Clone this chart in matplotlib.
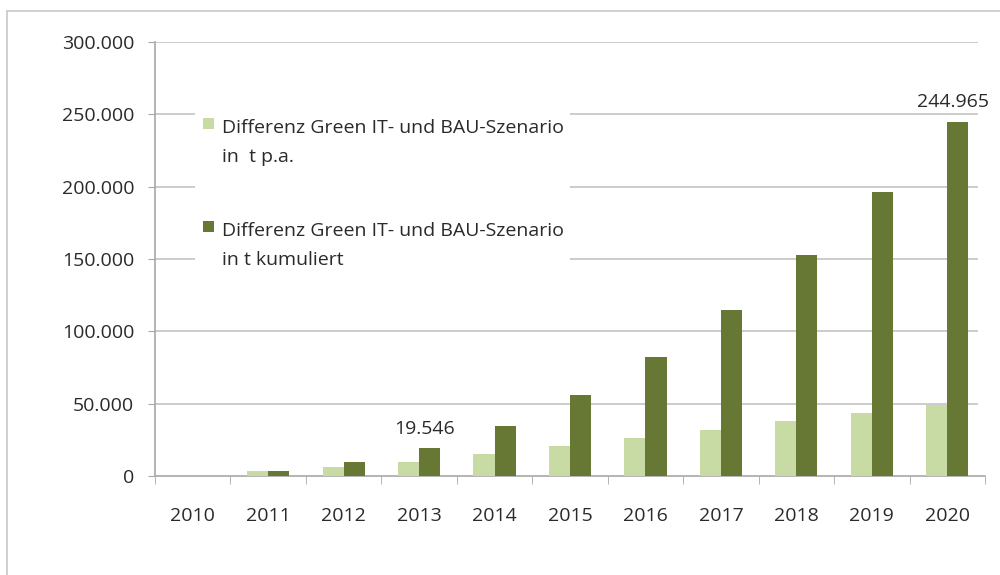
import numpy as np
import matplotlib
matplotlib.use("Agg")
import matplotlib.pyplot as plt
from matplotlib.patches import Rectangle
from matplotlib.ticker import FuncFormatter

years = ['2010', '2011', '2012', '2013', '2014', '2015', '2016', '2017', '2018', '2019', '2020']
pa = [0, 3300, 6600, 9646, 15400, 20900, 26500, 32200, 38100, 43500, 48819]
cumulative = [0, 3300, 9900, 19546, 34946, 55846, 82346, 114546, 152646, 196146, 244965]
labels = [['Differenz Green IT- und BAU-Szenario', 'in  t p.a.'],
          ['Differenz Green IT- und BAU-Szenario', 'in t kumuliert']]
annotated = {3: '19.546', 10: '244.965'}

light = '#c9dba4'
dark = '#667834'
txt_col = '#2a2a2a'
fs = 14

plt.rcParams['font.family'] = ['Open Sans', 'DejaVu Sans']

fig = plt.figure(figsize=(10, 5.75), dpi=100)
fig.patches.append(Rectangle((0.007, -0.1), 1.1, 1.081, transform=fig.transFigure,
                             fill=False, edgecolor='#c8c8c8', linewidth=1.2))
ax = fig.add_axes([0.155, 0.172, 0.83, 0.755])

x = np.arange(len(years))
w = 0.28
ax.bar(x - w / 2, pa, w, color=light, zorder=3)
ax.bar(x + w / 2, cumulative, w, color=dark, zorder=3)

for i, t in annotated.items():
    ax.text(x[i] + 0.07, cumulative[i] + 7000, t, ha='center', va='bottom',
            fontsize=fs, color=txt_col)

ax.set_xlim(-0.5, len(years) - 0.5)
ax.set_ylim(0, 300000)
yt = np.arange(0, 300001, 50000)
ax.set_yticks(yt)
ax.yaxis.set_major_formatter(FuncFormatter(lambda v, p: f'{int(v):,}'.replace(',', '.')))
# gridlines stop a little short of the right end
ax.hlines(yt[1:], 0, 0.992, transform=ax.get_yaxis_transform(),
          color='#c4c4c4', linewidth=1.2, zorder=0)

ax.set_xticks(x)
ax.set_xticklabels(years)
ax.set_xticks(np.arange(-0.5, len(years), 1), minor=True)
ax.tick_params(axis='x', which='major', length=0, pad=22, labelsize=fs, labelcolor=txt_col)
ax.tick_params(axis='x', which='minor', length=6, color='#a8a8a8', direction='out')
ax.tick_params(axis='y', length=5, color='#a8a8a8', labelsize=fs, labelcolor=txt_col, pad=10)

for s in ['top', 'right']:
    ax.spines[s].set_visible(False)
for s in ['left', 'bottom']:
    ax.spines[s].set_color('#a8a8a8')
    ax.spines[s].set_linewidth(1.2)

# legend box (white, covers the gridlines)
ax.add_patch(Rectangle((0.048, 0.475), 0.452, 0.382, transform=ax.transAxes,
                       facecolor='white', edgecolor='none', zorder=4))
entries = [(light, 0.802, 0.735), (dark, 0.5645, 0.4977)]
for (col, y1, y2), lab in zip(entries, labels):
    ax.add_patch(Rectangle((0.0578, y1 - 0.003), 0.0133, 0.0253, transform=ax.transAxes,
                           facecolor=col, edgecolor='none', zorder=5))
    ax.text(0.0807, y1, lab[0], transform=ax.transAxes, va='center', ha='left',
            fontsize=fs, color=txt_col, zorder=6)
    ax.text(0.0807, y2, lab[1], transform=ax.transAxes, va='center', ha='left',
            fontsize=fs, color=txt_col, zorder=6)

fig.savefig('out.png', dpi=100)
